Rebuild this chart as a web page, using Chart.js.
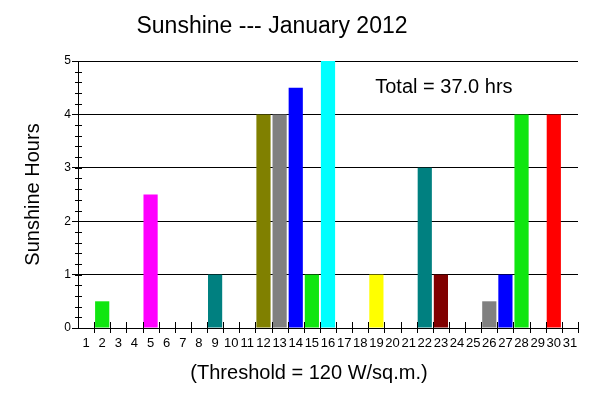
<!DOCTYPE html>
<html>
<head>
<meta charset="utf-8">
<title>Sunshine --- January 2012</title>
<script src="https://cdn.jsdelivr.net/npm/chart.js@4.4.1/dist/chart.umd.min.js"></script>
<style>
  html, body { margin: 0; padding: 0; background: #ffffff; }
  canvas { display: block; }
</style>
</head>
<body>
<canvas id="sun-chart" width="600" height="397"></canvas>
<script>
// days of the month
const days = [];
for (let d = 1; d <= 31; d++) days.push(String(d));

// sunshine hours per day
const hours = [0, 0.5, 0, 0, 2.5, 0, 0, 0, 1, 0,
               0, 4, 4, 4.5, 1, 5, 0, 0, 1, 0,
               0, 3, 1, 0, 0, 0.5, 1, 4, 0, 4,
               0];

// bar colour per day
const barColors = ["#ffffff", "#10e610", "#ffffff", "#ffffff", "#ff00ff", "#ffffff", "#ffffff", "#ffffff", "#008080", "#ffffff",
                   "#ffffff", "#808000", "#808080", "#0000ff", "#10e610", "#00ffff", "#ffffff", "#ffffff", "#ffff00", "#ffffff",
                   "#ffffff", "#008080", "#800000", "#ffffff", "#ffffff", "#808080", "#0000ff", "#10e610", "#ffffff", "#ff0000",
                   "#ffffff"];

const yTicks = [0, 1, 2, 3, 4, 5];

const chartTitle = "Sunshine --- January 2012";
const xTitle = "(Threshold = 120 W/sq.m.)";

const fontFamily = "'Liberation Sans', Arial, sans-serif";
const total = hours.reduce((a, b) => a + b, 0);

// tick marks that cross the axes, titles and the total label
const axisMarks = {
    id: "axisMarks",
    afterDraw(chart) {
        const ctx = chart.ctx;
        const x = chart.scales.x;
        const y = chart.scales.y;
        const area = chart.chartArea;
        ctx.save();
        ctx.strokeStyle = "#000000";
        ctx.lineWidth = 1;
        ctx.beginPath();
        // x ticks on the day boundaries
        for (let i = 1; i <= days.length; i++) {
            let px = Math.round((x.getPixelForValue(i - 1) + x.getPixelForValue(Math.min(i, days.length - 1))) / 2);
            if (i === days.length) px = Math.round(area.right);
            ctx.moveTo(px + 0.5, area.bottom - 6);
            ctx.lineTo(px + 0.5, area.bottom + 5);
        }
        // y minor ticks every 0.2
        for (let v = 0; v <= 50; v += 2) {
            const py = Math.round(y.getPixelForValue(v / 10));
            ctx.moveTo(area.left - 3, py + 0.5);
            ctx.lineTo(area.left + 4, py + 0.5);
        }
        ctx.stroke();

        ctx.fillStyle = "#000000";
        ctx.textAlign = "center";
        ctx.textBaseline = "middle";

        ctx.font = "23px " + fontFamily;
        ctx.fillText(chartTitle, 272, 27);

        ctx.font = "20px " + fontFamily;
        ctx.fillText(xTitle, 309, 373);

        ctx.fillText("Total = " + total.toFixed(1) + " hrs", x.getPixelForValue(22) + 3, y.getPixelForValue(4.5));
        ctx.restore();
    }
};

let ctx = document.getElementById("sun-chart").getContext("2d");

let chartInstance = new Chart(ctx, {
    type: "bar",
    data: {
        labels: days,
        datasets: [{
            label: "Sunshine Hours",
            data: hours,
            backgroundColor: barColors,
            borderWidth: 0,
            barPercentage: 0.88,
            categoryPercentage: 1.0
        }]
    },
    options: {
        responsive: false,
        animation: false,
        layout: {
            padding: { left: 0, right: 22, top: 61, bottom: 0 }
        },
        plugins: {
            legend: { display: false },
            tooltip: { enabled: false },
            title: { display: false }
        },
        scales: {
            x: {
                offset: true,
                grid: { display: false, drawTicks: false },
                border: { display: true, color: "#000000", width: 1 },
                ticks: {
                    color: "#000000",
                    font: { family: fontFamily, size: 13 },
                    padding: 8,
                    autoSkip: false,
                    maxRotation: 0
                },
                afterFit(scale) { scale.height = 69; }
            },
            y: {
                min: 0,
                max: 5,
                afterBuildTicks(scale) { scale.ticks = yTicks.map(v => ({ value: v })); },
                grid: { color: "#000000", lineWidth: 1, drawTicks: true, tickLength: 6 },
                border: { display: true, color: "#000000", width: 1 },
                ticks: {
                    color: "#000000",
                    font: { family: fontFamily, size: 12 },
                    padding: 1
                },
                title: {
                    display: true,
                    text: "Sunshine Hours",
                    color: "#000000",
                    font: { family: fontFamily, size: 20 },
                    padding: { top: 21, bottom: 0 }
                },
                afterFit(scale) { scale.width = 78; }
            }
        }
    },
    plugins: [axisMarks]
});
</script>
</body>
</html>
